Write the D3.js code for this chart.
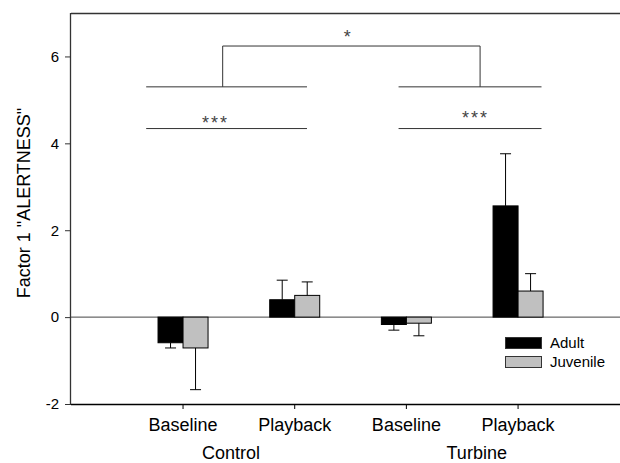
<!DOCTYPE html>
<html>
<head>
<meta charset="utf-8">
<script src="https://cdn.jsdelivr.net/npm/d3@7"></script>
<style>
  body { margin: 0; background: #fff; }
  svg { display: block; font-family: "Liberation Sans", Arial, sans-serif; }
</style>
</head>
<body>
<svg id="chart" width="620" height="463"></svg>
<script>
// data
const conditions = ['Control Baseline', 'Control Playback', 'Turbine Baseline', 'Turbine Playback'];
const tickLabels = ['Baseline', 'Playback', 'Baseline', 'Playback'];
const groupLabels = ['Control', 'Turbine'];
const series = ['Adult', 'Juvenile'];
const adultMean = [-0.59, 0.40, -0.17, 2.56];
const adultErr = [0.12, 0.45, 0.13, 1.20];
const juvenileMean = [-0.71, 0.50, -0.14, 0.60];
const juvenileErr = [0.96, 0.31, 0.29, 0.40];
const yTicks = [-2, 0, 2, 4, 6];

const colors = { Adult: '#000000', Juvenile: '#c0c0c0' };

const svg = d3.select('#chart');
const margin = { left: 71, top: 13, right: 626, bottom: 404 };

const y = d3.scaleLinear().domain([-2, 7]).range([margin.bottom, margin.top]);

const x0 = d3.scaleBand()
  .domain(conditions)
  .range([127.2, 573.9])
  .paddingInner(0)
  .paddingOuter(0);

const x1 = d3.scaleBand()
  .domain(series)
  .range([0, x0.bandwidth()])
  .paddingInner(0)
  .paddingOuter(1.233);

// index -> pixel, for annotations between categories
const xi = d3.scaleLinear()
  .domain([0, 3])
  .range([x0(conditions[0]) + x0.bandwidth() / 2, x0(conditions[3]) + x0.bandwidth() / 2]);

const rows = conditions.map((c, i) => ({
  cond: c,
  values: [
    { key: 'Adult', mean: adultMean[i], err: adultErr[i] },
    { key: 'Juvenile', mean: juvenileMean[i], err: juvenileErr[i] }
  ]
}));

// frame: top line
svg.append('line')
  .attr('x1', margin.left).attr('x2', margin.right)
  .attr('y1', margin.top + 0.5).attr('y2', margin.top + 0.5)
  .attr('stroke', '#333').attr('stroke-width', 1.3);

// y axis
const yAxis = svg.append('g')
  .attr('transform', `translate(${margin.left},0)`)
  .call(d3.axisLeft(y).tickValues(yTicks).tickSize(6).tickPadding(6).tickFormat(d => String(d)));
yAxis.select('.domain').attr('stroke', '#333').attr('stroke-width', 1.3)
  .attr('d', `M-0.5,${margin.bottom}V${margin.top}`);
yAxis.selectAll('.tick line').attr('stroke', '#333');
yAxis.selectAll('text').attr('font-size', 15).attr('fill', '#000')
  .attr('font-family', '"Liberation Sans", Arial, sans-serif');

// zero line
svg.append('line')
  .attr('x1', margin.left).attr('x2', margin.right)
  .attr('y1', y(0)).attr('y2', y(0))
  .attr('stroke', '#444').attr('stroke-width', 1);

// bars
const groups = svg.append('g').selectAll('g')
  .data(rows)
  .join('g')
  .attr('transform', d => `translate(${x0(d.cond)},0)`);

groups.selectAll('rect')
  .data(d => d.values)
  .join('rect')
  .attr('x', d => x1(d.key))
  .attr('width', x1.bandwidth())
  .attr('y', d => y(Math.max(0, d.mean)))
  .attr('height', d => Math.abs(y(d.mean) - y(0)))
  .attr('fill', d => colors[d.key])
  .attr('stroke', '#000')
  .attr('stroke-width', 1);

// error bars (one-sided, away from zero)
const errs = groups.selectAll('g.err')
  .data(d => d.values)
  .join('g')
  .attr('class', 'err');

const capHalf = 5.5;
errs.append('line')
  .attr('x1', d => x1(d.key) + x1.bandwidth() / 2)
  .attr('x2', d => x1(d.key) + x1.bandwidth() / 2)
  .attr('y1', d => y(d.mean))
  .attr('y2', d => y(d.mean + Math.sign(d.mean) * d.err))
  .attr('stroke', '#000').attr('stroke-width', 1);
errs.append('line')
  .attr('x1', d => x1(d.key) + x1.bandwidth() / 2 - capHalf)
  .attr('x2', d => x1(d.key) + x1.bandwidth() / 2 + capHalf)
  .attr('y1', d => y(d.mean + Math.sign(d.mean) * d.err))
  .attr('y2', d => y(d.mean + Math.sign(d.mean) * d.err))
  .attr('stroke', '#000').attr('stroke-width', 1);

// x axis
const xAxis = svg.append('g')
  .attr('transform', `translate(0,${margin.bottom})`)
  .call(d3.axisBottom(x0).tickSize(5).tickPadding(9).tickFormat((d, i) => tickLabels[i]));
xAxis.select('.domain').attr('stroke', '#000').attr('stroke-width', 1.3)
  .attr('d', `M${margin.left},0.5H${margin.right}`);
xAxis.selectAll('.tick line').attr('stroke', '#000');
xAxis.selectAll('text').attr('font-size', 18).attr('fill', '#000')
  .attr('font-family', '"Liberation Sans", Arial, sans-serif');

// group labels
const groupPos = [0.43, 2.63];
svg.append('g').selectAll('text')
  .data(groupLabels)
  .join('text')
  .attr('x', (d, i) => xi(groupPos[i]))
  .attr('y', 459)
  .attr('text-anchor', 'middle')
  .attr('font-size', 18)
  .text(d => d);

// y label
svg.append('text')
  .attr('transform', `translate(30,203) rotate(-90)`)
  .attr('text-anchor', 'middle')
  .attr('font-size', 18)
  .text('Factor 1 "ALERTNESS"');

// significance brackets
const pairLines = [
  { x1: -0.33, x2: 1.11, y: 4.34 },
  { x1: 1.93, x2: 3.21, y: 4.34 },
  { x1: -0.33, x2: 1.11, y: 5.30 },
  { x1: 1.93, x2: 3.21, y: 5.30 }
];
const topBracket = { x1: 0.355, x2: 2.66, yLow: 5.30, yHigh: 6.24 };
const stars = [
  { x: 0.29, y: 4.34, text: '***' },
  { x: 2.62, y: 4.45, text: '***' },
  { x: 1.48, y: 6.30, text: '*' }
];

svg.append('g').selectAll('line')
  .data(pairLines)
  .join('line')
  .attr('x1', d => xi(d.x1)).attr('x2', d => xi(d.x2))
  .attr('y1', d => y(d.y)).attr('y2', d => y(d.y))
  .attr('stroke', '#333').attr('stroke-width', 1);

svg.append('path')
  .attr('d', d3.line()([
    [xi(topBracket.x1), y(topBracket.yLow)],
    [xi(topBracket.x1), y(topBracket.yHigh)],
    [xi(topBracket.x2), y(topBracket.yHigh)],
    [xi(topBracket.x2), y(topBracket.yLow)]
  ]))
  .attr('fill', 'none')
  .attr('stroke', '#333').attr('stroke-width', 1);

svg.append('g').selectAll('text')
  .data(stars)
  .join('text')
  .attr('x', d => xi(d.x))
  .attr('y', d => y(d.y))
  .attr('text-anchor', 'middle')
  .attr('font-size', 18)
  .attr('letter-spacing', 2)
  .attr('fill', '#444')
  .text(d => d.text);

// legend
const legend = svg.append('g').attr('transform', 'translate(505,337)');
const li = legend.selectAll('g')
  .data(series)
  .join('g')
  .attr('transform', (d, i) => `translate(0,${i * 19})`);
li.append('rect')
  .attr('x', 0.5).attr('y', 0.5)
  .attr('width', 36).attr('height', 11)
  .attr('fill', d => colors[d])
  .attr('stroke', '#333').attr('stroke-width', 1);
li.append('text')
  .attr('x', 45).attr('y', 11)
  .attr('font-size', 15)
  .text(d => d);
</script>
</body>
</html>
